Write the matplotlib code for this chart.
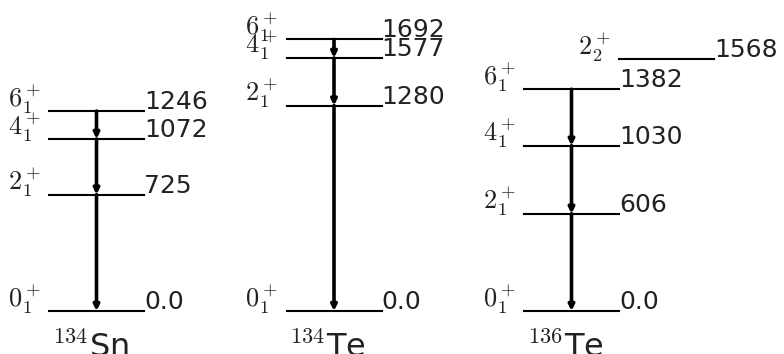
import matplotlib
matplotlib.use("Agg")
import matplotlib.pyplot as plt

plt.rcParams['mathtext.fontset'] = 'cm'

# niveis (keV) e rotulos de spin
sn134_E = [0, 725, 1072, 1246]
sn134_J = [r'$0^+_1$', r'$2^+_1$', r'$4^+_1$', r'$6^+_1$']
sn134_txt = ['0.0', '725', '1072', '1246']

te134_E = [0, 1280, 1577, 1692]
te134_J = [r'$0^+_1$', r'$2^+_1$', r'$4^+_1$', r'$6^+_1$']
te134_txt = ['0.0', '1280', '1577', '1692']

te136_E = [0, 606, 1030, 1382]
te136_J = [r'$0^+_1$', r'$2^+_1$', r'$4^+_1$', r'$6^+_1$']
te136_txt = ['0.0', '606', '1030', '1382']

# nivel extra 2+_2 do 136Te (sem transicao)
te136_extra_E = 1568
te136_extra_J = r'$2^+_2$'
te136_extra_txt = '1568'

nucleos = [r'$^{134}$Sn', r'$^{134}$Te', r'$^{136}$Te']
posicoes = [0.0, 2.5, 5.0]

fig = plt.figure(figsize=(7.84, 3.54), dpi=100)
ax = fig.add_axes([0, 0, 1, 1])
ax.set_xlim(-0.516, 7.737)
ax.set_ylim(-268, 1938)
ax.axis('off')


def desenha_nivel(x0, E, J, txt, largura=1.0):
    ax.plot([x0, x0 + largura], [E, E], color='k', lw=1.5)
    ax.annotate(J, (x0, E), xytext=(-6, 3), textcoords='offset points',
                ha='right', va='baseline', fontsize=19, color='#222222')
    ax.annotate(txt, (x0 + largura, E), xytext=(0, 1.5), textcoords='offset points',
                ha='left', va='baseline', fontsize=18, color='#222222')


esquemas = [(sn134_E, sn134_J, sn134_txt),
            (te134_E, te134_J, te134_txt),
            (te136_E, te136_J, te136_txt)]

for x0, (Es, Js, txts), nome in zip(posicoes, esquemas, nucleos):
    for E, J, t in zip(Es, Js, txts):
        desenha_nivel(x0, E, J, t)
    # cascata de transicoes
    xm = x0 + 0.5
    for E_alto, E_baixo in zip(Es[:0:-1], Es[-2::-1]):
        ax.annotate('', xy=(xm, E_baixo), xytext=(xm, E_alto),
                    arrowprops=dict(arrowstyle='-|>', lw=2.6, color='k',
                                    mutation_scale=8, shrinkA=0, shrinkB=0))
    ax.text(x0 + 0.03, -282, nome, ha='left', va='baseline', fontsize=23,
            color='#222222', clip_on=False)

desenha_nivel(posicoes[2] + 1.0, te136_extra_E, te136_extra_J, te136_extra_txt)

plt.savefig("out.png", dpi=100)
